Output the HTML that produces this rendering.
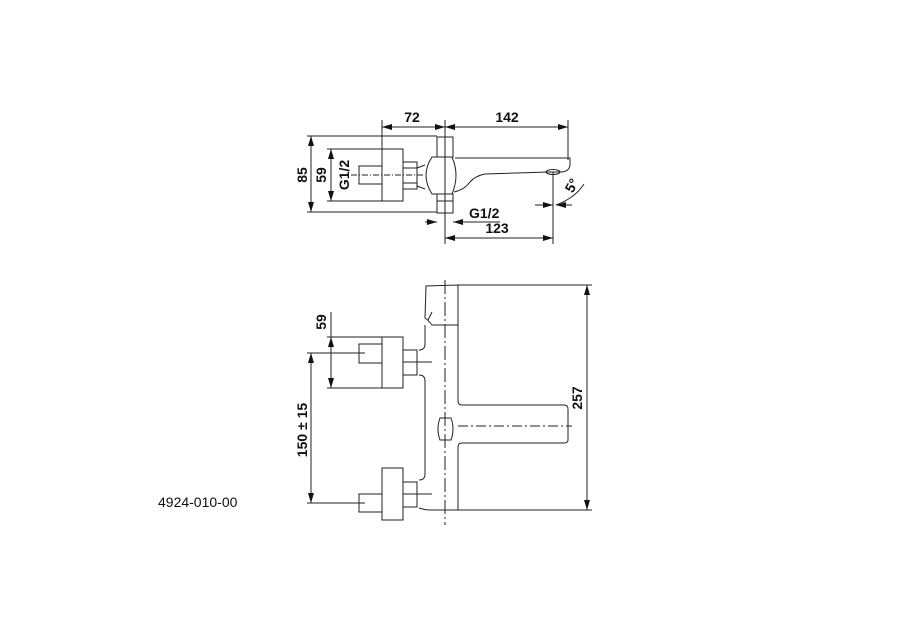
<!DOCTYPE html>
<html><head><meta charset="utf-8"><style>
html,body{margin:0;padding:0;background:#fff;}
svg{display:block;}
text{font-family:"Liberation Sans",sans-serif;font-weight:bold;font-size:14px;fill:#111;}
</style></head><body>
<svg width="900" height="630" viewBox="0 0 900 630" xmlns="http://www.w3.org/2000/svg">
<defs>
<marker id="a" viewBox="0 0 10 6" refX="10" refY="3" markerWidth="10" markerHeight="6" orient="auto-start-reverse" markerUnits="userSpaceOnUse"><path d="M0,0 L10,3 L0,6 z" fill="#111"/></marker>
</defs>
<g stroke="#222" stroke-width="1" fill="none">
<line x1="382" y1="120" x2="382" y2="149"/>
<line x1="445" y1="120" x2="445" y2="244"/>
<line x1="568" y1="120" x2="568" y2="160"/>
<line x1="307" y1="136" x2="437" y2="136"/>
<line x1="307" y1="212" x2="437" y2="212"/>
<line x1="327" y1="149" x2="382" y2="149"/>
<line x1="327" y1="201" x2="382" y2="201"/>
<line x1="382" y1="127" x2="445" y2="127" marker-start="url(#a)" marker-end="url(#a)"/>
<line x1="445" y1="127" x2="568" y2="127" marker-start="url(#a)" marker-end="url(#a)"/>
<line x1="311" y1="136" x2="311" y2="212" marker-start="url(#a)" marker-end="url(#a)"/>
<line x1="331" y1="149" x2="331" y2="201" marker-start="url(#a)" marker-end="url(#a)"/>
<line x1="445" y1="238" x2="553" y2="238" marker-start="url(#a)" marker-end="url(#a)"/>
<line x1="553" y1="172" x2="553" y2="244"/>
<line x1="425" y1="222" x2="437" y2="222" marker-end="url(#a)"/>
<line x1="465" y1="222" x2="453" y2="222" marker-end="url(#a)"/>
<line x1="453" y1="222" x2="500" y2="222"/>
<line x1="535" y1="205" x2="553" y2="205" marker-end="url(#a)"/>
<line x1="572" y1="205" x2="556" y2="205" marker-end="url(#a)"/>
<path d="M556,205 Q575,198 584,184"/>
<rect x="359" y="166" width="23" height="18"/>
<rect x="382" y="149" width="21" height="52"/>
<rect x="403" y="162" width="14" height="27"/>
<line x1="403" y1="168" x2="417" y2="168"/><line x1="403" y1="183" x2="417" y2="183"/>
<path d="M417,168 L425,165 M417,186 L425,189"/>
<path d="M432,157 L452,157 Q460,175 452,194 L432,194 Q420,175 432,157 z"/>
<rect x="437" y="137" width="16" height="20"/>
<rect x="437" y="194" width="16" height="19"/>
<line x1="437" y1="201" x2="453" y2="201"/>
<path d="M455,158 L570,158 L570,164 Q570,172 560,172 L548,172 L485,174 Q475,176 470,182 Q464,190 454,192"/>
<ellipse cx="553" cy="172" rx="7" ry="2.5"/>
<line x1="340" y1="175" x2="425" y2="175" stroke-dasharray="6,2,1,2"/>
<line x1="445" y1="280" x2="445" y2="525" stroke-dasharray="14,3,2,3"/>
<line x1="458" y1="285" x2="592" y2="285"/>
<line x1="458" y1="510" x2="592" y2="510"/>
<line x1="587" y1="285" x2="587" y2="510" marker-start="url(#a)" marker-end="url(#a)"/>
<line x1="307" y1="353" x2="365" y2="353"/>
<line x1="307" y1="503" x2="365" y2="503"/>
<line x1="311" y1="353" x2="311" y2="503" marker-start="url(#a)" marker-end="url(#a)"/>
<line x1="327" y1="337" x2="382" y2="337"/>
<line x1="327" y1="388" x2="382" y2="388"/>
<line x1="331" y1="312" x2="331" y2="337"/>
<line x1="331" y1="337" x2="331" y2="388" marker-start="url(#a)" marker-end="url(#a)"/>
<path d="M426,286 L458,285 L458,325 L432,325 Q428,320 425,318 z"/>
<path d="M428,320 L432,312"/>
<path d="M425,325 L425,344 Q425,350 419,350 M419,375 Q425,375 425,381 L425,474 Q425,480 419,480 M419,508 Q425,510 430,510 L458,510 L458,447 Q458,443 462,443 L564,443 Q568,443 568,440 L568,409 Q568,405 564,405 L462,405 Q458,405 458,401 L458,325"/>
<rect x="382" y="337" width="21" height="51"/>
<rect x="403" y="350" width="14" height="25"/>
<line x1="403" y1="362" x2="417" y2="362"/>
<rect x="359" y="344" width="23" height="19"/>
<rect x="382" y="468" width="21" height="52"/>
<rect x="403" y="482" width="14" height="25"/>
<line x1="403" y1="494" x2="417" y2="494"/>
<rect x="359" y="494" width="23" height="18"/>
<line x1="417" y1="362" x2="432" y2="362"/>
<line x1="417" y1="494" x2="432" y2="494"/>
<path d="M440,418 L451,418 Q455,429 451,440 L440,440 Q436,429 440,418 z"/>
<line x1="458" y1="426" x2="572" y2="426" stroke-dasharray="10,3,2,3"/>
</g>
<text x="412" y="122" text-anchor="middle">72</text>
<text x="507" y="122" text-anchor="middle">142</text>
<text x="497" y="233" text-anchor="middle">123</text>
<text x="469" y="218">G1/2</text>
<text transform="translate(307,175) rotate(-90)" text-anchor="middle">85</text>
<text transform="translate(326,175) rotate(-90)" text-anchor="middle">59</text>
<text transform="translate(349,175) rotate(-90)" text-anchor="middle">G1/2</text>
<text transform="translate(576,188) rotate(-60)" text-anchor="middle">5°</text>
<text transform="translate(326,322) rotate(-90)" text-anchor="middle">59</text>
<text transform="translate(307,430) rotate(-90)" text-anchor="middle">150 ± 15</text>
<text transform="translate(582,398) rotate(-90)" text-anchor="middle">257</text>
<text x="158" y="507" style="font-weight:normal;font-size:14px">4924-010-00</text>
</svg>
</body></html>
